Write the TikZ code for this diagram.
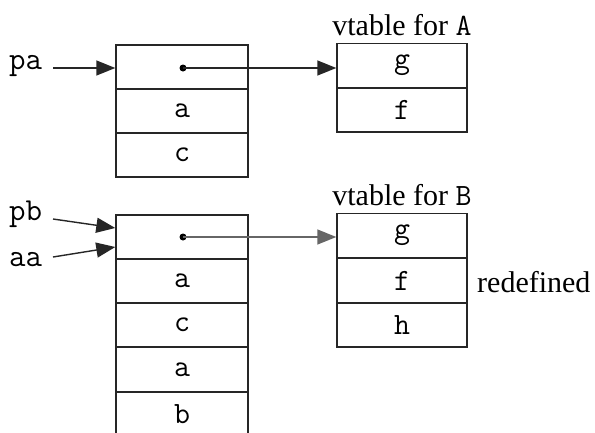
\documentclass[tikz,border=0pt]{standalone}
\usepackage{fontspec}
\setmainfont{Liberation Serif}
\usetikzlibrary{arrows.meta}
\begin{document}
\begin{tikzpicture}[x=1pt,y=-1pt,
  cell/.style={draw=black!85,line width=1.4pt,minimum width=#1,minimum height=44pt,inner sep=0pt,anchor=center,font=\fontsize{31}{34}\selectfont\ttfamily},
  cell/.default=132pt,
  vcell/.style={cell=130pt},
  lbl/.style={inner sep=0pt,font=\fontsize{30}{34}\selectfont},
  tlbl/.style={inner sep=0pt,font=\fontsize{32}{34}\selectfont\ttfamily},
  ptr/.style={line width=1.4pt,draw=black!85,-{Triangle[length=19pt,width=15pt]}},
  dotst/.style={circle,fill=black,inner sep=0pt,minimum size=7pt}]
\useasboundingbox (0,0) rectangle (595,432);
\clip (0,0) rectangle (595,432);
% top object
\node[cell] (o1) at (182,67) {};
\node[cell] (o2) at (182,111) {a};
\node[cell] (o3) at (182,155) {c};
\node[dotst] (d1) at (183,68) {};
% vtable A
\node[vcell] (va1) at (402,65.5) {g};
\node[vcell] (va2) at (402,110) {f};
\node[lbl] (ta) at (402,25) {vtable for {\fontsize{31}{34}\selectfont\ttfamily A}};
% pa
\node[tlbl,anchor=west] (pa) at (9,66) {pa};
\coordinate (pae) at (o1.west |- 0,68);
\draw[ptr] (53,68) -- (pae);
\coordinate (va1in) at (va1.west |- d1);
\draw[ptr] (d1.center) -- (va1in);
% bottom object
\node[cell] (b1) at (182,237) {};
\node[cell] (b2) at (182,281) {a};
\node[cell] (b3) at (182,325) {c};
\node[cell] (b4) at (182,369.5) {a};
\node[cell] (b5) at (182,414.5) {b};
\node[dotst] (d2) at (183,237) {};
% vtable B
\node[vcell] (vb1) at (402,235.5) {g};
\node[vcell] (vb2) at (402,280.5) {f};
\node[vcell] (vb3) at (402,325) {h};
\node[lbl] (tb) at (402,195) {vtable for {\fontsize{31}{34}\selectfont\ttfamily B}};
\node[lbl,anchor=west] (red) at (477,282) {redefined};
% pb, aa
\node[tlbl,anchor=west] (pb) at (9,214) {pb};
\node[tlbl,anchor=west] (aa) at (9,260) {aa};
\coordinate (pbs) at (53,219);
\coordinate (pbe) at (b1.west |- 0,228);
\coordinate (aas) at (53,257);
\coordinate (aae) at (b1.west |- 0,247);
\draw[ptr] (pbs) -- (pbe);
\draw[ptr] (aas) -- (aae);
\coordinate (vb1in) at (vb1.west |- d2);
\draw[ptr,draw=black!60] (d2.center) -- (vb1in);
\end{tikzpicture}
\end{document}
